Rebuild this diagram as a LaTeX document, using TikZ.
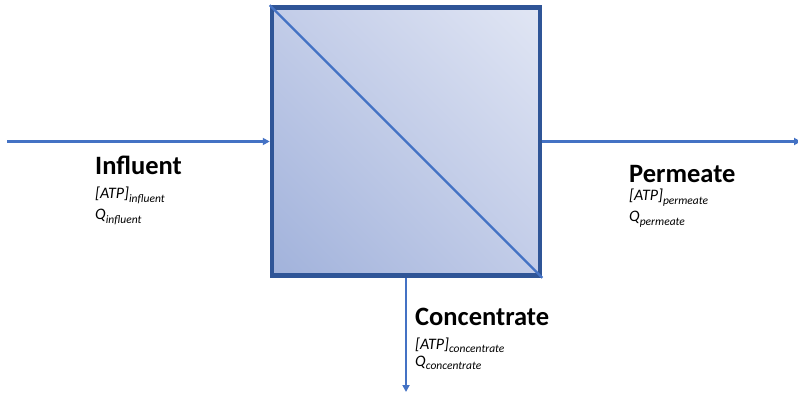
\documentclass[tikz,border=0pt]{standalone}
\usepackage{fontspec}
\setmainfont{Carlito}
\usetikzlibrary{positioning,arrows.meta,shadings}
\definecolor{frameBlue}{HTML}{2F5597}
\definecolor{flowBlue}{HTML}{4472C4}
\definecolor{shadeDark}{HTML}{A1B2DB}
\definecolor{shadeMid}{HTML}{C2CCE8}
\definecolor{shadeLight}{HTML}{E1E6F4}
\newcommand{\subtxt}[1]{\raisebox{-3.5pt}{\fontsize{11.5}{11.5}\selectfont\itshape #1}}
\tikzset{
  membrane/.style={draw=frameBlue, line width=4.5pt, minimum size=268pt, inner sep=0pt,
                   lower left=shadeDark, upper right=shadeLight,
                   upper left=shadeMid, lower right=shadeMid},
  diag/.style={draw=flowBlue, line width=2.2pt},
  flow/.style={-{Triangle[length=7pt, width=7pt]}, line width=2.4pt, flowBlue},
  head/.style={font=\fontsize{26.5}{26.5}\selectfont\bfseries, inner sep=0pt, anchor=base west},
  var/.style={font=\fontsize{16}{16}\selectfont\itshape, inner sep=0pt, anchor=base west},
}
\begin{document}
\begin{tikzpicture}[x=1pt, y=1pt]
  \useasboundingbox (0,0) rectangle (798,394);
  % membrane unit
  \node[membrane] (mem) at (406,252.5) {};
  \draw[diag] (mem.north west) -- (mem.south east);
  % streams
  \coordinate (inlet) at (7,252.5);
  \coordinate (outlet) at (801,252.5);
  \coordinate (drain) at (406,2);
  \draw[flow] (inlet) -- (mem.west);
  \draw[flow] (mem.east) -- (outlet);
  \draw[flow] (mem.south) -- (drain);
  % labels
  \node[head] (infl) at (95,219) {Influent};
  \node[var, below=24pt of infl.base west, anchor=base west] (inflatp) {[ATP]\subtxt{influent}};
  \node[var, below=21pt of inflatp.base west, anchor=base west] (inflq) {Q\subtxt{influent}};
  \node[head] (perm) at (629,211) {Permeate};
  \node[var, below=18pt of perm.base west, anchor=base west] (permatp) {[ATP]\subtxt{permeate}};
  \node[var, below=21pt of permatp.base west, anchor=base west] (permq) {Q\subtxt{permeate}};
  \node[head] (conc) at (415,69) {Concentrate};
  \node[var, below=24pt of conc.base west, anchor=base west] (concatp) {[ATP]\subtxt{concentrate}};
  \node[var, below=17pt of concatp.base west, anchor=base west] (concq) {Q\subtxt{concentrate}};
\end{tikzpicture}
\end{document}
